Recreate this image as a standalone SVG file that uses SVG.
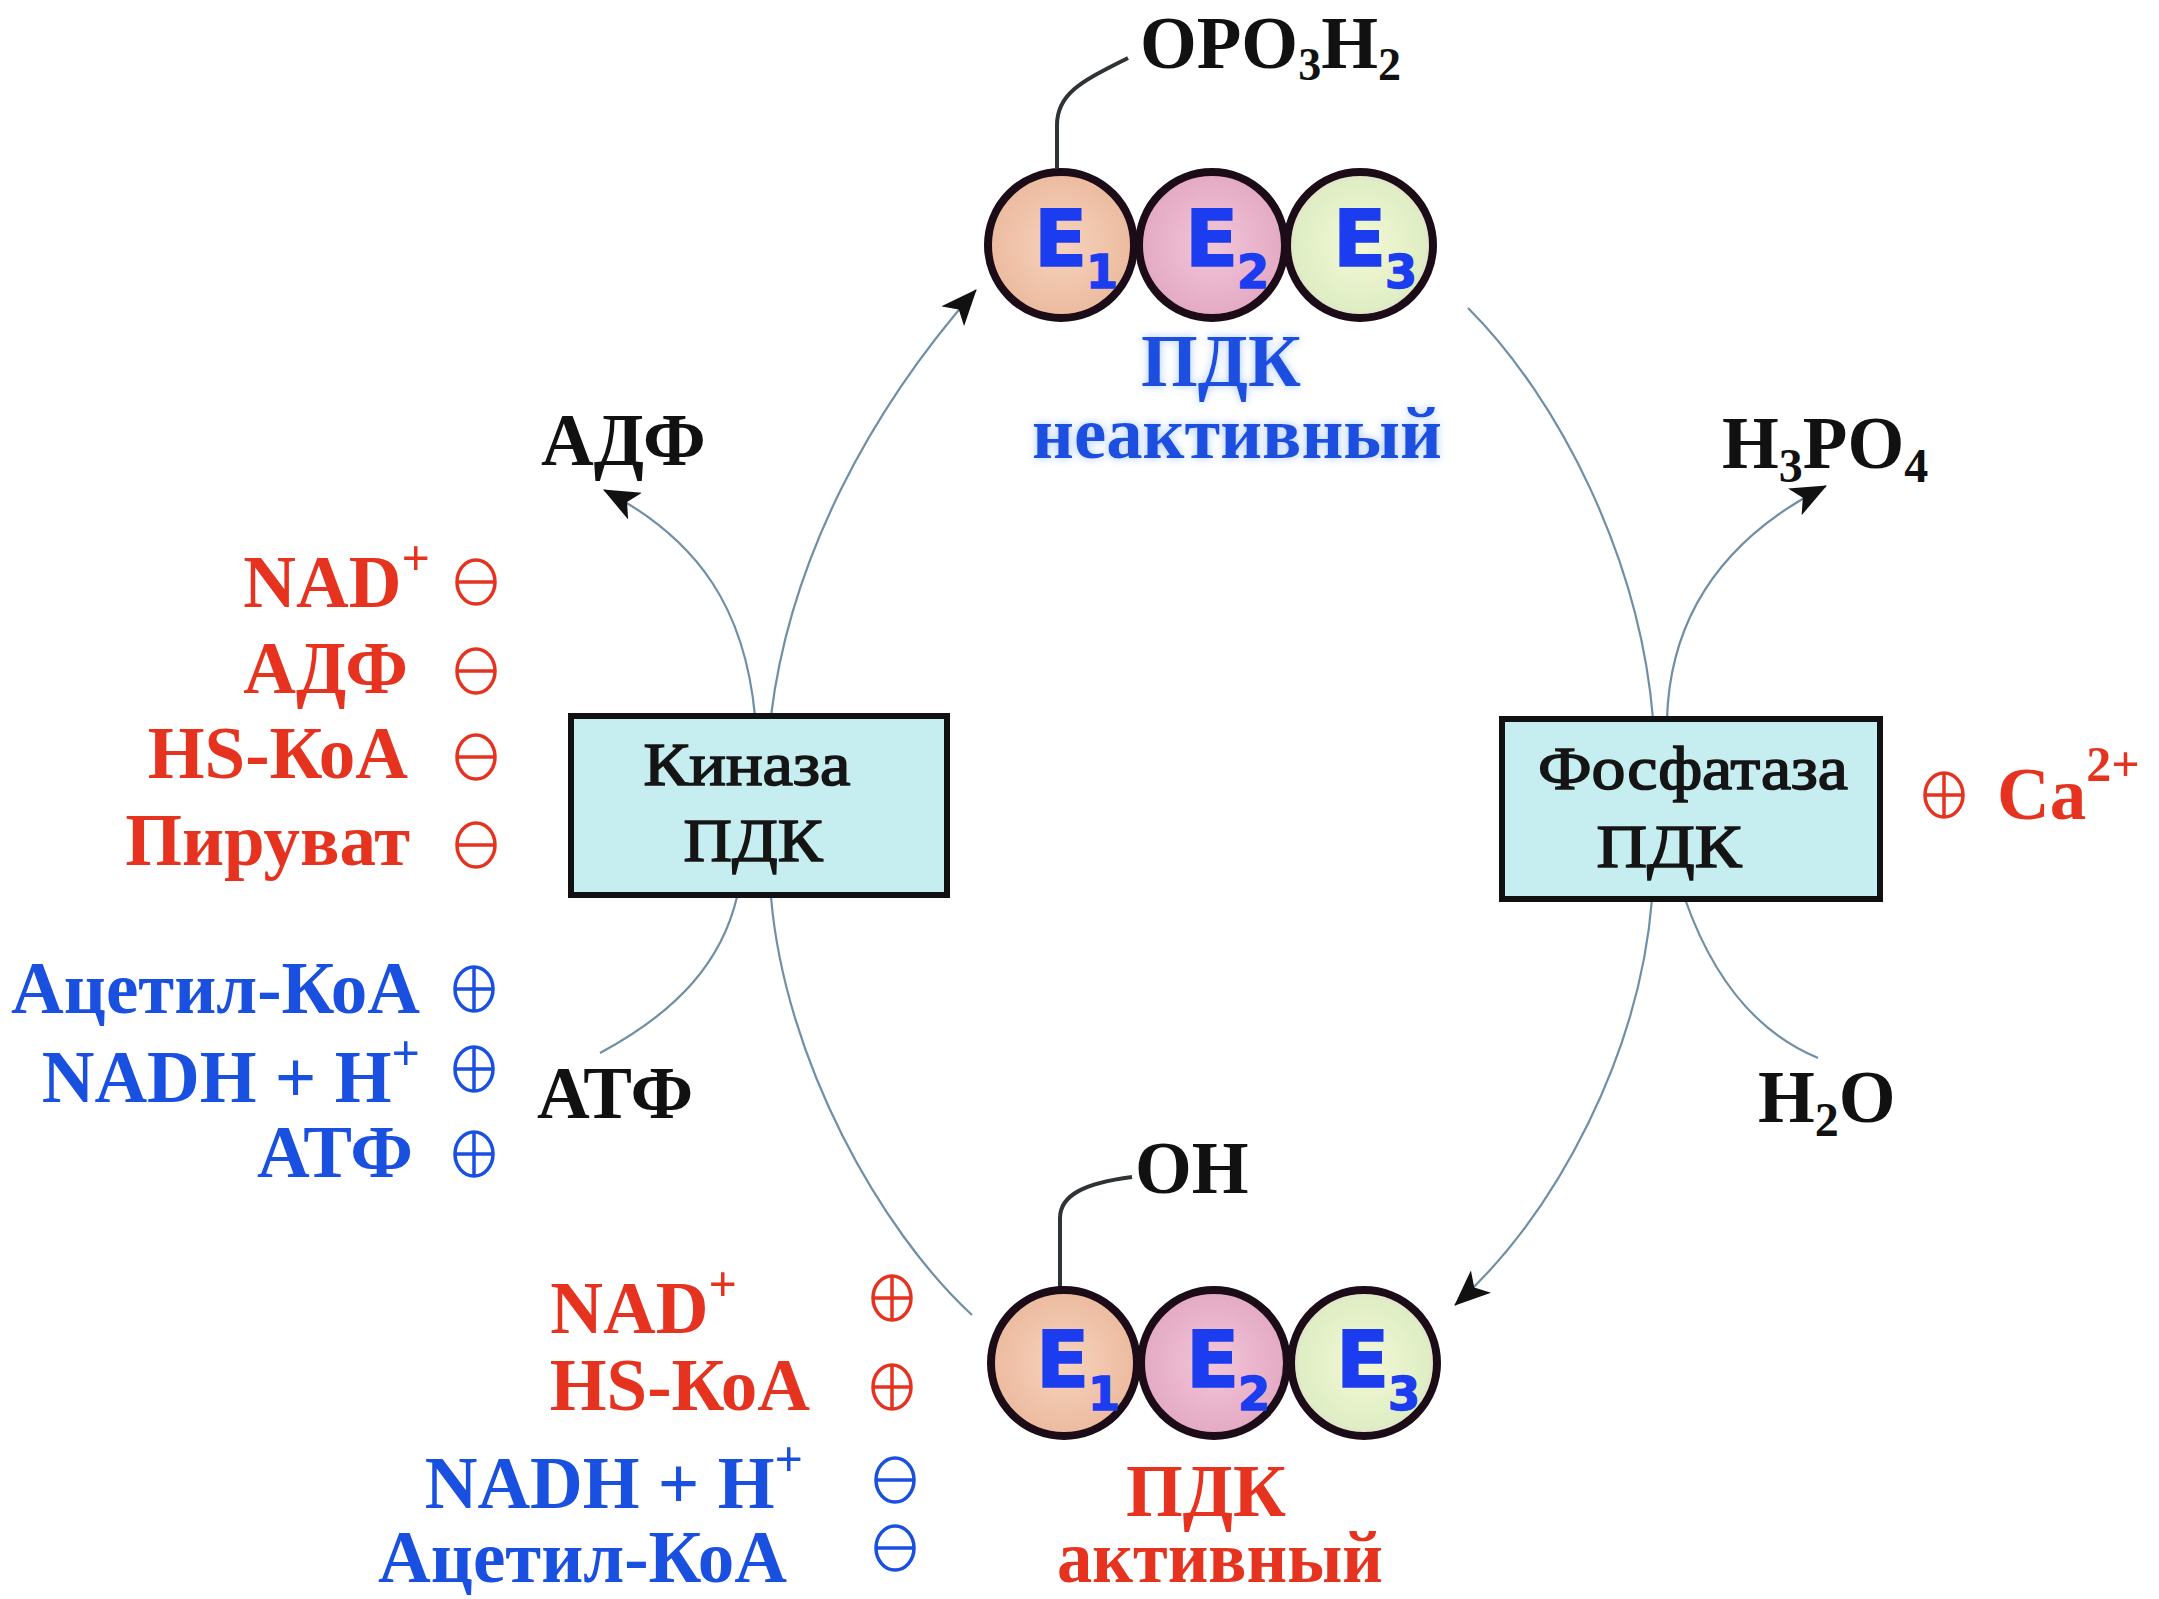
<svg xmlns="http://www.w3.org/2000/svg" width="2159" height="1599" viewBox="0 0 2159 1599">
<style>
.lbl{font-family:"Liberation Serif","Times New Roman",serif;font-weight:bold;font-size:73px}
.red{fill:#e5331f}
.blue{fill:#1a50e0}
.blk{fill:#111}
.box{fill:#c6edf0;stroke:#111;stroke-width:6}
.boxt{font-family:"Liberation Serif","Times New Roman",serif;font-size:62px;fill:#151515;stroke:#151515;stroke-width:1.6;text-anchor:middle}
.ring{stroke:#1c0c18;stroke-width:8}
.etxt{font-family:"DejaVu Sans",sans-serif;font-weight:bold;fill:#1c3cf0;stroke:#1c3cf0;stroke-width:1.5}
.conn{fill:none;stroke:#6f8fa6;stroke-width:2.2}
.link{fill:none;stroke:#2e3436;stroke-width:4}
.sym{fill:none;stroke:currentColor;stroke-width:3.5}
</style>
<defs>
<marker id="arr" markerUnits="userSpaceOnUse" markerWidth="38" markerHeight="30" refX="35" refY="15" orient="auto">
<path d="M0,0 L36,15 L0,30 L9,15 z" fill="#111"/>
</marker>
<radialGradient id="g1" cx="50%" cy="50%" r="55%"><stop offset="0" stop-color="#f6d3bd"/><stop offset="1" stop-color="#ebb89c"/></radialGradient>
<radialGradient id="g2" cx="50%" cy="50%" r="55%"><stop offset="0" stop-color="#f2c6d8"/><stop offset="1" stop-color="#e2a6c2"/></radialGradient>
<radialGradient id="g3" cx="50%" cy="50%" r="55%"><stop offset="0" stop-color="#f4f8d6"/><stop offset="0.8" stop-color="#dfeec4"/><stop offset="1" stop-color="#e8d0d8"/></radialGradient>
<filter id="glow" x="-10%" y="-30%" width="120%" height="160%">
<feGaussianBlur in="SourceAlpha" stdDeviation="4" result="b"/>
<feFlood flood-color="#a8c8ff"/>
<feComposite in2="b" operator="in"/>
<feMerge><feMergeNode/><feMergeNode in="SourceGraphic"/></feMerge>
</filter>
<g id="plus" class="sym"><ellipse cx="0" cy="0" rx="19" ry="22"/><line x1="0" y1="-22" x2="0" y2="22"/><line x1="-19" y1="0" x2="19" y2="0"/></g>
<g id="minus" class="sym"><ellipse cx="0" cy="0" rx="19" ry="22"/><line x1="-19" y1="0" x2="19" y2="0"/></g>
</defs>
<rect width="2159" height="1599" fill="#ffffff"/>

<g id="connectors">
<path class="conn" d="M972,1315 C880,1230 785,1060 771,897"/>
<path class="conn" d="M771,716 C790,560 870,410 976,290" marker-end="url(#arr)"/>
<path class="conn" d="M755,716 C745,610 700,540 604,490" marker-end="url(#arr)"/>
<path class="conn" d="M737,897 C722,960 680,1010 600,1053"/>
<path class="conn" d="M1468,308 C1560,400 1640,560 1653,719"/>
<path class="conn" d="M1667,719 C1670,620 1720,540 1826,486" marker-end="url(#arr)"/>
<path class="conn" d="M1652,899 C1640,1050 1560,1210 1455,1305" marker-end="url(#arr)"/>
<path class="conn" d="M1685,899 C1710,970 1750,1030 1818,1058"/>
</g>

<g id="pdc-inactive">
<path class="link" d="M1057,168 L1057,125 C1057,92 1085,80 1128,58"/>
<circle class="ring" cx="1061" cy="245" r="73" fill="url(#g1)"/>
<circle class="ring" cx="1212" cy="245" r="73" fill="url(#g2)"/>
<circle class="ring" cx="1360" cy="245" r="73" fill="url(#g3)"/>
<text class="etxt" x="1034" y="266" font-size="78">E</text><text class="etxt" x="1086" y="288" font-size="46">1</text>
<text class="etxt" x="1185" y="266" font-size="78">E</text><text class="etxt" x="1237" y="288" font-size="46">2</text>
<text class="etxt" x="1333" y="266" font-size="78">E</text><text class="etxt" x="1385" y="288" font-size="46">3</text>
<text class="lbl blk" x="1140" y="68" font-size="70">OPO<tspan font-size="46" dy="12">3</tspan><tspan dy="-12">H</tspan><tspan font-size="46" dy="12">2</tspan></text>
<g filter="url(#glow)">
<text class="lbl blue" x="1221" y="386" font-size="76" text-anchor="middle">ПДК</text>
<text class="lbl blue" x="1237" y="458" font-size="76" text-anchor="middle" textLength="410" lengthAdjust="spacingAndGlyphs">неактивный</text>
</g>
</g>

<g id="pdc-active">
<path class="link" d="M1060,1290 L1060,1218 C1060,1195 1085,1183 1132,1177"/>
<circle class="ring" cx="1064" cy="1363" r="73" fill="url(#g1)"/>
<circle class="ring" cx="1214" cy="1363" r="73" fill="url(#g2)"/>
<circle class="ring" cx="1364" cy="1363" r="73" fill="url(#g3)"/>
<text class="etxt" x="1036" y="1387" font-size="78">E</text><text class="etxt" x="1088" y="1410" font-size="46">1</text>
<text class="etxt" x="1186" y="1387" font-size="78">E</text><text class="etxt" x="1238" y="1410" font-size="46">2</text>
<text class="etxt" x="1336" y="1387" font-size="78">E</text><text class="etxt" x="1388" y="1410" font-size="46">3</text>
<text class="lbl blk" x="1135" y="1193" font-size="70">OH</text>
<text class="lbl red" x="1206" y="1516" font-size="76" text-anchor="middle">ПДК</text>
<text class="lbl red" x="1220" y="1582" font-size="76" text-anchor="middle" textLength="326" lengthAdjust="spacingAndGlyphs">активный</text>
</g>

<g id="kinase">
<rect class="box" x="571" y="716" width="376" height="179"/>
<text class="boxt" x="747" y="785" textLength="207" lengthAdjust="spacingAndGlyphs">Киназа</text>
<text class="boxt" x="753" y="861" textLength="139" lengthAdjust="spacingAndGlyphs">ПДК</text>
</g>

<g id="phosphatase">
<rect class="box" x="1502" y="719" width="378" height="180"/>
<text class="boxt" x="1693" y="789" textLength="310" lengthAdjust="spacingAndGlyphs">Фосфатаза</text>
<text class="boxt" x="1669" y="867" textLength="145" lengthAdjust="spacingAndGlyphs">ПДК</text>
</g>

<g id="substrates">
<text class="lbl blk" x="541" y="465">АДФ</text>
<text class="lbl blk" x="537" y="1118">АТФ</text>
<text class="lbl blk" x="1722" y="468">H<tspan font-size="48" dy="14">3</tspan><tspan dy="-14">PO</tspan><tspan font-size="48" dy="14">4</tspan></text>
<text class="lbl blk" x="1758" y="1122">H<tspan font-size="48" dy="14">2</tspan><tspan dy="-14">O</tspan></text>
</g>

<g id="ca-activator">
<use href="#plus" x="1944" y="795" style="color:#e5331f"/>
<text class="lbl red" x="1997" y="819">Ca<tspan font-size="50" dy="-38">2+</tspan></text>
</g>

<g id="kinase-effectors">
<text class="lbl red" x="430" y="607" text-anchor="end">NAD<tspan font-size="50" dy="-32">+</tspan></text>
<text class="lbl red" x="408" y="693" text-anchor="end">АДФ</text>
<text class="lbl red" x="408" y="778" text-anchor="end">HS-КоА</text>
<text class="lbl red" x="410" y="865" text-anchor="end">Пируват</text>
<text class="lbl blue" x="420" y="1013" text-anchor="end">Ацетил-КоА</text>
<text class="lbl blue" x="420" y="1102" text-anchor="end">NADH + H<tspan font-size="50" dy="-32">+</tspan></text>
<text class="lbl blue" x="413" y="1177" text-anchor="end">АТФ</text>
<use href="#minus" x="476" y="582" style="color:#e5331f"/>
<use href="#minus" x="476" y="671" style="color:#e5331f"/>
<use href="#minus" x="476" y="757" style="color:#e5331f"/>
<use href="#minus" x="476" y="845" style="color:#e5331f"/>
<use href="#plus" x="474" y="989" style="color:#1a50e0"/>
<use href="#plus" x="474" y="1069" style="color:#1a50e0"/>
<use href="#plus" x="474" y="1154" style="color:#1a50e0"/>
</g>

<g id="pdc-effectors">
<text class="lbl red" x="737" y="1333" text-anchor="end">NAD<tspan font-size="50" dy="-32">+</tspan></text>
<text class="lbl red" x="810" y="1410" text-anchor="end">HS-КоА</text>
<text class="lbl blue" x="803" y="1508" text-anchor="end">NADH + H<tspan font-size="50" dy="-32">+</tspan></text>
<text class="lbl blue" x="787" y="1582" text-anchor="end">Ацетил-КоА</text>
<use href="#plus" x="892" y="1298" style="color:#e5331f"/>
<use href="#plus" x="892" y="1387" style="color:#e5331f"/>
<use href="#minus" x="895" y="1480" style="color:#1a50e0"/>
<use href="#minus" x="895" y="1548" style="color:#1a50e0"/>
</g>
</svg>
